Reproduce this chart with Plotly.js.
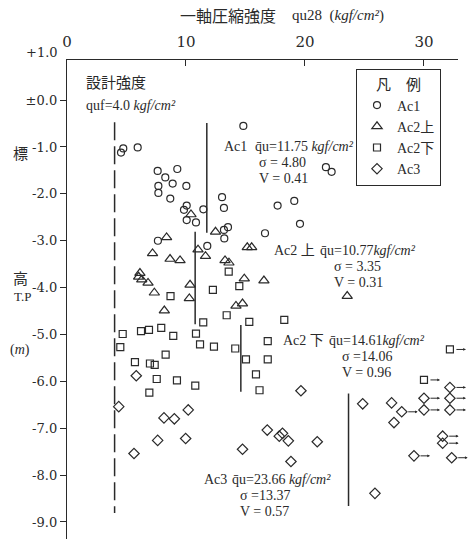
<!DOCTYPE html>
<html><head><meta charset="utf-8">
<script src="https://cdn.plot.ly/plotly-3.0.1.min.js"></script>
<style>html,body{margin:0;padding:0;background:#fff}#chart{width:474px;height:539px}</style>
</head><body><div id="chart"></div>
<script>
// ---- data ----
const groupNames = ['Ac1', 'Ac2上', 'Ac2下', 'Ac3'];
const ac1_qu = [4.54,4.73,5.94,7.62,8.26,9.27,7.68,8.88,10.03,7.68,8.68,10.06,9.83,10.06,10.84,11.46,13.03,13.19,14.82,21.76,22.24,17.70,19.10,19.58,16.64,13.19,13.53,13.22,7.64,11.79];
const ac1_el = [-1.12,-1.03,-1.01,-1.51,-1.65,-1.47,-1.83,-1.78,-1.83,-1.98,-2.10,-2.25,-2.34,-2.56,-2.61,-2.33,-2.07,-2.30,-0.55,-1.43,-1.53,-2.25,-2.15,-2.64,-2.84,-2.77,-2.71,-2.95,-3.00,-3.11];
const ac2u_qu = [10.42,12.48,8.37,7.19,8.66,9.50,11.01,11.64,13.28,13.61,15.15,15.52,6.13,6.02,6.28,6.81,7.34,10.34,10.28,8.18,14.90,16.55,14.20,14.75,23.55];
const ac2u_el = [-2.44,-2.81,-2.93,-3.27,-3.39,-3.42,-3.19,-3.33,-3.42,-3.47,-3.14,-3.14,-3.69,-3.77,-3.83,-3.90,-4.11,-3.94,-4.23,-4.49,-3.81,-3.85,-4.39,-4.34,-4.18];
const ac2l_qu = [13.59,14.48,12.26,8.70,13.42,11.45,15.32,18.26,4.68,6.22,6.89,7.92,8.93,10.84,16.87,4.48,11.18,12.35,14.14,15.04,16.87,8.29,5.71,6.97,7.37,15.88,7.54,9.24,10.78,6.92,16.18];
const ac2l_el = [-3.66,-3.97,-4.05,-4.18,-4.59,-4.74,-4.73,-4.69,-4.99,-4.93,-4.90,-4.86,-5.03,-4.98,-5.14,-5.27,-5.21,-5.26,-5.30,-5.53,-5.53,-5.43,-5.59,-5.62,-5.65,-5.85,-5.95,-5.98,-6.09,-6.24,-6.19];
const ac2l_over_qu = [32.18, 30.0];
const ac2l_over_el = [-5.32, -5.97];
const ac3_qu = [5.82,4.35,8.15,9.02,10.19,7.62,9.97,5.63,14.75,16.83,17.84,18.11,18.60,18.82,21.03,19.66,24.85,27.28,27.48,25.88];
const ac3_el = [-5.88,-6.54,-6.78,-6.80,-6.61,-7.26,-7.22,-7.54,-7.45,-7.04,-7.17,-7.11,-7.27,-7.71,-7.29,-6.20,-6.48,-6.46,-6.88,-8.39];
const ac3_over_qu = [32.18,30.0,32.18,28.13,30.0,32.18,31.57,31.57,29.16,32.33];
const ac3_over_el = [-6.13,-6.36,-6.36,-6.65,-6.61,-6.61,-7.17,-7.32,-7.59,-7.63];
const meanQu = [11.75, 10.77, 14.61, 23.66];
const sdQu   = ['4.80', '3.35', '14.06', '13.37'];
const cvQu   = ['0.41', '0.31', '0.96', '0.57'];
const meanTop = [-0.49, -2.81, -4.80, -6.26];
const meanBot = [-2.83, -4.78, -6.22, -8.66];
const designQu = 4.0;
const designTop = -0.47, designBot = -8.81;
const xTickVals = [0, 10, 20, 30];
const yTickVals = [0,-1,-2,-3,-4,-5,-6,-7,-8,-9];
const yTickText = ['±0.0','-1.0','-2.0','-3.0','-4.0','-5.0','-6.0','-7.0','-8.0','-9.0'];

// ---- layout helpers ----
const L = 67, R = 458, T = 60, B = 539;
const px = x => (x - L) / (R - L);
const py = y => (B - y) / (B - T);
const INK = '#2a2a2a';
const SERIF = 'Liberation Serif, "Noto Sans CJK JP", serif';
const CJK = '"Noto Sans CJK JP", sans-serif';

const mk = (sym, size) => ({symbol: sym, size: size, color: INK, line: {color: INK, width: 1.2}});
const traces = [
  {x: ac1_qu, y: ac1_el, name: groupNames[0], mode: 'markers', type: 'scatter', marker: mk('circle-open', 7), cliponaxis: false},
  {x: ac2u_qu, y: ac2u_el, name: groupNames[1], mode: 'markers', type: 'scatter', marker: mk('triangle-up-open', 9), cliponaxis: false},
  {x: ac2l_qu.concat(ac2l_over_qu), y: ac2l_el.concat(ac2l_over_el), name: groupNames[2], mode: 'markers', type: 'scatter', marker: mk('square-open', 7), cliponaxis: false},
  {x: ac3_qu.concat(ac3_over_qu), y: ac3_el.concat(ac3_over_el), name: groupNames[3], mode: 'markers', type: 'scatter', marker: mk('diamond-open', 8), cliponaxis: false}
];

const shapes = [];
shapes.push({type: 'line', xref: 'x', yref: 'y', x0: designQu, x1: designQu, y0: designTop, y1: designBot,
  line: {color: INK, width: 1.5, dash: '18px,6px'}});
meanQu.forEach((m, i) => shapes.push({type: 'line', xref: 'x', yref: 'y', x0: m, x1: m, y0: meanTop[i], y1: meanBot[i],
  line: {color: INK, width: 1.5}}));

const ann = [];
const txt = (text, x, y, size, opts) => ann.push(Object.assign({text: text, xref: 'paper', yref: 'paper', x: px(x), y: py(y),
  xanchor: 'left', yanchor: 'middle', showarrow: false, font: {family: SERIF, size: size, color: INK}}, opts || {}));

// arrows for values beyond the axis
const arrow = (x, y) => ann.push({x: x, y: y, xref: 'x', yref: 'y', text: '', showarrow: true, ax: -11, ay: 0,
  axref: 'pixel', ayref: 'pixel', xshift: 16, arrowhead: 2, arrowsize: 0.55, arrowwidth: 1, arrowcolor: INK});
ac2l_over_qu.forEach((v, i) => arrow(v, ac2l_over_el[i]));
ac3_over_qu.forEach((v, i) => arrow(v, ac3_over_el[i]));

// titles
txt('一軸圧縮強度', 178, 15, 16, {font: {family: CJK, size: 16, color: INK}});
txt('qu28  (<i>kgf/cm²</i>)', 290, 15, 15);
txt('+1.0', 60, 53, 13, {xanchor: 'right', font: {family: 'DejaVu Serif, serif', size: 13, color: INK}});
txt('標', 20, 152, 15, {xanchor: 'center', font: {family: CJK, size: 15, color: INK}});
txt('高', 20, 277, 15, {xanchor: 'center', font: {family: CJK, size: 15, color: INK}});
txt('T.P', 22, 296, 13, {xanchor: 'center'});
txt('(<i>m</i>)', 20, 350, 14, {xanchor: 'center'});

// design strength
txt('設計強度', 84, 81, 15, {font: {family: CJK, size: 15, color: INK}});
txt('quf=' + designQu.toFixed(1) + ' <i>kgf/cm²</i>', 84, 105, 14);

// group statistics
const statPos = [
  {lab: 'Ac1', lx: 222, qx: 253, sx: 257, y: 146, gap: ' ', eq: ' = '},
  {lab: 'Ac2 上', lx: 272, qx: 318, sx: 332, y: 250, gap: '', eq: ' = '},
  {lab: 'Ac2 下', lx: 281, qx: 327, sx: 340, y: 340, gap: '', eq: ' ='},
  {lab: 'Ac3', lx: 202, qx: 230, sx: 238, y: 479, gap: ' ', eq: ' ='}
];
statPos.forEach((p, i) => {
  txt(p.lab, p.lx, p.y, 14);
  txt('q\u0304u=' + meanQu[i].toFixed(2) + p.gap + '<i>kgf/cm²</i>', p.qx, p.y, 14);
  txt('σ' + p.eq + sdQu[i], p.sx, p.y + 16, 14);
  txt('V = ' + cvQu[i], p.sx, p.y + 32, 14);
});

const layout = {
  width: 474, height: 539,
  margin: {l: L, r: 474 - R, t: T, b: 539 - B, pad: 0},
  paper_bgcolor: '#fff', plot_bgcolor: '#fff',
  showlegend: true,
  legend: {x: px(356), y: py(69), xanchor: 'left', yanchor: 'top', bgcolor: '#fff',
    bordercolor: INK, borderwidth: 1, font: {family: SERIF, size: 14, color: INK},
    title: {text: '凡　例', side: 'top center', font: {family: CJK, size: 15, color: INK}},
    itemwidth: 30, tracegroupgap: 2},
  xaxis: {side: 'top', range: [0, 32.86], tickvals: xTickVals, ticks: 'inside', ticklen: 6, tickcolor: INK,
    showline: true, linecolor: INK, linewidth: 1.2, showgrid: false, zeroline: false, ticklabelstandoff: 6,
    tickfont: {family: 'DejaVu Serif, serif', size: 15, color: INK}},
  yaxis: {range: [-9.364, 0.856], tickvals: yTickVals, ticktext: yTickText, ticks: 'outside', ticklen: 6, tickcolor: INK,
    showline: true, linecolor: INK, linewidth: 1.2, showgrid: false, zeroline: false,
    tickfont: {family: 'DejaVu Serif, serif', size: 13, color: INK}},
  shapes: shapes,
  annotations: ann
};
Plotly.newPlot('chart', traces, layout, {staticPlot: true, displayModeBar: false});
</script></body></html>
